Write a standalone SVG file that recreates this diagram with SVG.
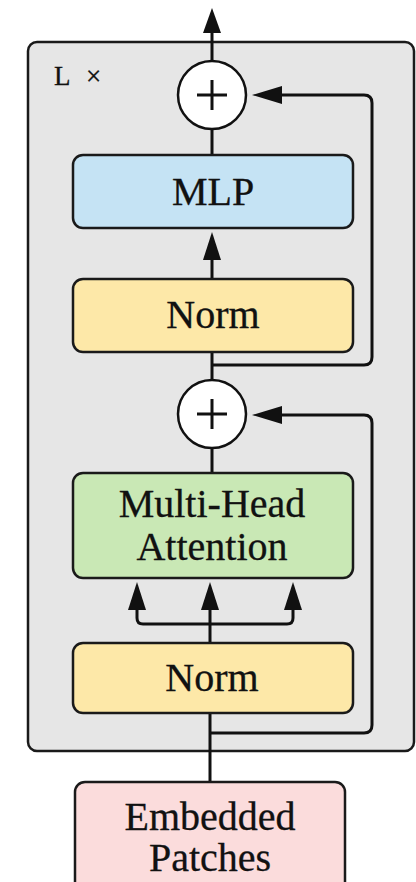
<svg xmlns="http://www.w3.org/2000/svg" width="416" height="882" viewBox="0 0 416 882">
<defs>
<style>
.box{stroke:#1a1a1a;stroke-width:2.5}
.ln{fill:none;stroke:#111;stroke-width:3}
.hd{fill:#111}
.t{font-family:"Liberation Serif","Times New Roman",serif;font-size:40px;fill:#111;stroke:#111;stroke-width:0.3;text-anchor:middle}
.lx{font-family:"Liberation Serif","Times New Roman",serif;font-size:27px;fill:#111;stroke:#111;stroke-width:0.3}
.op{fill:#fff;stroke:#111;stroke-width:2.5}
.plus{stroke:#111;stroke-width:3}
</style>
</defs>
<rect width="416" height="882" fill="#fff"/>
<g id="block">
<rect x="28" y="42" width="386" height="709" rx="9" fill="#e6e6e6" stroke="#1a1a1a" stroke-width="2.5"/>
<text class="lx" x="54" y="85">L <tspan x="86">×</tspan></text>
</g>
<g id="connectors">
<path class="ln" d="M212 60 V30"/>
<polygon class="hd" points="212,8 203,33 221,33"/>
<path class="ln" d="M212 129 V155"/>
<path class="ln" d="M212 278 V258"/>
<polygon class="hd" points="212,232 203,260 221,260"/>
<path class="ln" d="M212 352 V380"/>
<path class="ln" d="M212 365 H364 Q372 365 372 357 V103 Q372 95 364 95 H278"/>
<polygon class="hd" points="252,95 282,86 282,104"/>
<path class="ln" d="M212 448 V473"/>
<path class="ln" d="M210 733 H364 Q372 733 372 725 V423 Q372 415 364 415 H278"/>
<polygon class="hd" points="252,415 282,406 282,424"/>
<path class="ln" d="M210 643 V608"/>
<path class="ln" d="M137 608 V618 Q137 624 143 624 H287 Q293 624 293 618 V608"/>
<polygon class="hd" points="137,582 128,610 146,610"/>
<polygon class="hd" points="210,582 201,610 219,610"/>
<polygon class="hd" points="293,582 284,610 302,610"/>
<path class="ln" d="M210 713 V782"/>
</g>
<g id="add2">
<circle class="op" cx="212" cy="95" r="34"/>
<path class="plus" d="M197 95 H227 M212 80 V110"/>
</g>
<g id="mlp">
<rect class="box" x="73" y="155" width="280" height="73" rx="10" fill="#c5e3f4"/>
<text class="t" x="213" y="205">MLP</text>
</g>
<g id="norm2">
<rect class="box" x="73" y="279" width="280" height="73" rx="10" fill="#fde8a8"/>
<text class="t" x="213" y="328">Norm</text>
</g>
<g id="add1">
<circle class="op" cx="212" cy="414" r="34"/>
<path class="plus" d="M197 414 H227 M212 399 V429"/>
</g>
<g id="mha">
<rect class="box" x="73" y="473" width="280" height="105" rx="10" fill="#c9e8b5"/>
<text class="t" x="212" y="517">Multi-Head</text>
<text class="t" x="212" y="560">Attention</text>
</g>
<g id="norm1">
<rect class="box" x="73" y="643" width="280" height="70" rx="10" fill="#fde8a8"/>
<text class="t" x="212" y="691">Norm</text>
</g>
<g id="embedded">
<rect class="box" x="75" y="782" width="270" height="110" rx="10" fill="#fbdcdc"/>
<text class="t" x="210" y="830">Embedded</text>
<text class="t" x="210" y="871">Patches</text>
</g>
</svg>
